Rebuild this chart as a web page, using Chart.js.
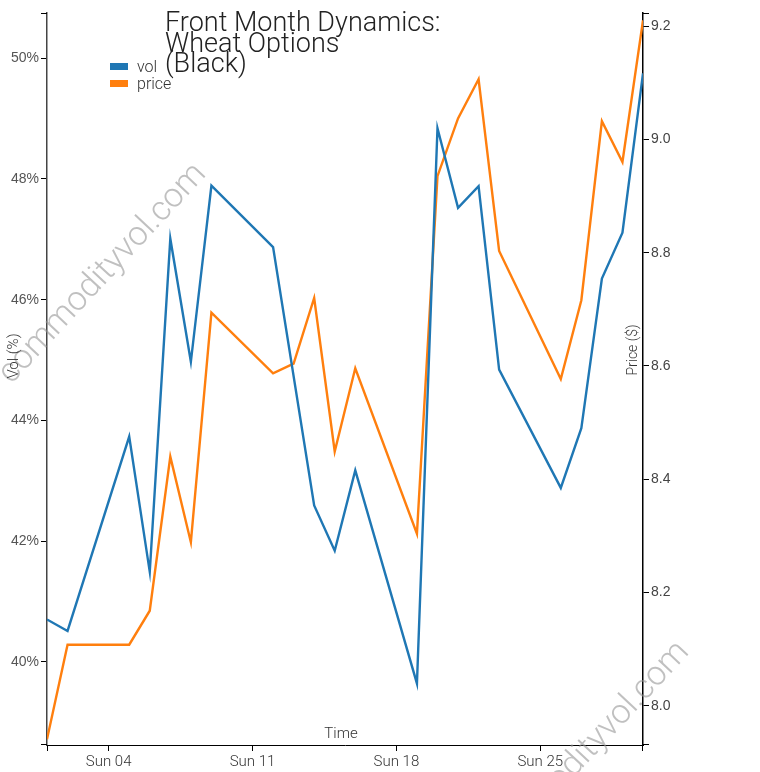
<!DOCTYPE html>
<html>
<head>
<meta charset="utf-8">
<title>Front Month Dynamics: Wheat Options (Black)</title>
<script src="https://cdn.jsdelivr.net/npm/chart.js@4.4.1/dist/chart.umd.min.js"></script>
<style>
  html, body { margin: 0; padding: 0; background: #fff; }
  #wrap { width: 760px; height: 772px; }
</style>
</head>
<body>
<div id="wrap"><canvas id="volChart" width="760" height="772"></canvas></div>
<script>
// September 2022, trading days only (day of month)
const days = [1, 2, 5, 6, 7, 8, 9, 12, 13, 14, 15, 16, 19, 20, 21, 22, 23, 26, 27, 28, 29, 30];
// front month implied vol (%), no vol print on the 13th
const volPct = [40.70, 40.51, 43.73, 41.49, 47.01, 44.97, 47.89, 46.87, null, 42.59, 41.84, 43.17,
    39.64, 48.84, 47.52, 47.88, 44.84, 42.88, 43.87, 46.35, 47.11, 49.75];
// front month futures price ($)
const priceUsd = [7.941, 8.108, 8.108, 8.168, 8.440, 8.289, 8.694, 8.587, 8.604, 8.720, 8.449, 8.596,
    8.304, 8.935, 9.037, 9.106, 8.803, 8.577, 8.716, 9.032, 8.960, 9.210];

const xTickDays = [4, 11, 18, 25];
const xTickLabels = ['Sun 04', 'Sun 11', 'Sun 18', 'Sun 25'];
const volTicks = [40, 42, 44, 46, 48, 50];
const priceTicks = [8.0, 8.2, 8.4, 8.6, 8.8, 9.0, 9.2];

const titleLines = ['Front Month Dynamics:', 'Wheat Options', '(Black)'];

// titles, legend, axis labels and watermark, drawn like the d3 original
const decorPlugin = {
    id: 'decor',
    beforeDatasetsDraw(chart) {
        const ctx = chart.ctx;
        ctx.save();
        ctx.font = '300 34px Roboto';
        ctx.fillStyle = 'rgba(150, 150, 150, 0.6)';
        ctx.textAlign = 'center';
        ctx.textBaseline = 'middle';
        [[103, 274], [586, 752]].forEach(p => {
            ctx.save();
            ctx.translate(p[0], p[1]);
            ctx.rotate(-47 * Math.PI / 180);
            ctx.fillText('commodityvol.com', 0, 0);
            ctx.restore();
        });
        ctx.restore();
    },
    afterDraw(chart) {
        const ctx = chart.ctx;
        const area = chart.chartArea;
        ctx.save();

        // outer ticks (d3 style)
        ctx.strokeStyle = '#000';
        ctx.lineWidth = 1;
        ctx.beginPath();
        ctx.moveTo(area.left - 6, area.top + 0.5); ctx.lineTo(area.left, area.top + 0.5);
        ctx.moveTo(area.left - 6, area.bottom - 0.5); ctx.lineTo(area.left, area.bottom - 0.5);
        ctx.moveTo(area.right, area.top + 0.5); ctx.lineTo(area.right + 6, area.top + 0.5);
        ctx.moveTo(area.right, area.bottom - 0.5); ctx.lineTo(area.right + 6, area.bottom - 0.5);
        ctx.moveTo(area.left + 0.5, area.bottom); ctx.lineTo(area.left + 0.5, area.bottom + 6);
        ctx.moveTo(area.right - 0.5, area.bottom); ctx.lineTo(area.right - 0.5, area.bottom + 6);
        ctx.stroke();

        // title
        ctx.fillStyle = '#222';
        ctx.font = '300 27px Roboto';
        ctx.textAlign = 'left';
        ctx.textBaseline = 'alphabetic';
        titleLines.forEach((line, i) => ctx.fillText(line, 165, 31 + i * 20.5));

        // legend
        ctx.font = '300 16px Roboto';
        chart.data.datasets.forEach((ds, i) => {
            ctx.fillStyle = ds.borderColor;
            ctx.fillRect(110, 63 + i * 17, 18, 7);
            ctx.fillStyle = '#333';
            ctx.fillText(ds.label, 137, 72 + i * 17);
        });

        // axis titles
        ctx.fillStyle = '#333';
        ctx.font = '300 15px Roboto';
        ctx.textAlign = 'center';
        ctx.fillText('Time', 341, 738);

        ctx.save();
        ctx.translate(18, 356);
        ctx.rotate(-Math.PI / 2);
        ctx.fillText('Vol (%)', 0, 0);
        ctx.restore();

        ctx.font = '300 14px Roboto';
        ctx.save();
        ctx.translate(637, 350);
        ctx.rotate(-Math.PI / 2);
        ctx.fillText('Price ($)', 0, 0);
        ctx.restore();

        ctx.restore();
    }
};

const axisGrid = {
    drawOnChartArea: false,
    drawTicks: true,
    tickLength: 6,
    color: '#000'
};

const ctx = document.getElementById('volChart').getContext('2d');
const volChart = new Chart(ctx, {
    type: 'line',
    data: {
        datasets: [{
            label: 'vol',
            data: days.map((d, i) => ({ x: d, y: volPct[i] })),
            borderColor: '#1f77b4',
            borderWidth: 2.4,
            pointRadius: 0,
            tension: 0,
            spanGaps: true,
            yAxisID: 'y'
        }, {
            label: 'price',
            data: days.map((d, i) => ({ x: d, y: priceUsd[i] })),
            borderColor: '#ff7f0e',
            borderWidth: 2.4,
            pointRadius: 0,
            tension: 0,
            yAxisID: 'y1'
        }]
    },
    options: {
        responsive: false,
        animation: false,
        events: [],
        layout: { padding: { top: 13, left: 0, right: 0, bottom: 0 } },
        plugins: {
            legend: { display: false },
            title: { display: false },
            tooltip: { enabled: false }
        },
        scales: {
            x: {
                type: 'linear',
                min: 1,
                max: 30,
                afterFit: scale => { scale.height = 27; },
                afterBuildTicks: scale => { scale.ticks = xTickDays.map(v => ({ value: v })); },
                grid: axisGrid,
                border: { display: true, color: '#000', width: 1 },
                ticks: {
                    padding: 2,
                    maxRotation: 0,
                    color: '#333',
                    font: { family: 'Roboto', size: 15, weight: '300' },
                    callback: v => xTickLabels[xTickDays.indexOf(v)]
                }
            },
            y: {
                position: 'left',
                min: 38.62,
                max: 50.75,
                afterFit: scale => { scale.width = 47; },
                afterBuildTicks: scale => { scale.ticks = volTicks.map(v => ({ value: v })); },
                grid: axisGrid,
                border: { display: true, color: '#444', width: 1.5 },
                ticks: {
                    padding: 2,
                    color: '#555',
                    font: { family: 'Liberation Sans', size: 14 },
                    callback: v => v + '%'
                }
            },
            y1: {
                position: 'right',
                min: 7.931,
                max: 9.223,
                afterFit: scale => { scale.width = 117; },
                afterBuildTicks: scale => { scale.ticks = priceTicks.map(v => ({ value: v })); },
                grid: axisGrid,
                border: { display: true, color: '#000', width: 1.5 },
                ticks: {
                    padding: 2,
                    color: '#444',
                    font: { family: 'Liberation Sans', size: 14 },
                    callback: v => v.toFixed(1)
                }
            }
        }
    },
    plugins: [decorPlugin]
});
</script>
</body>
</html>
